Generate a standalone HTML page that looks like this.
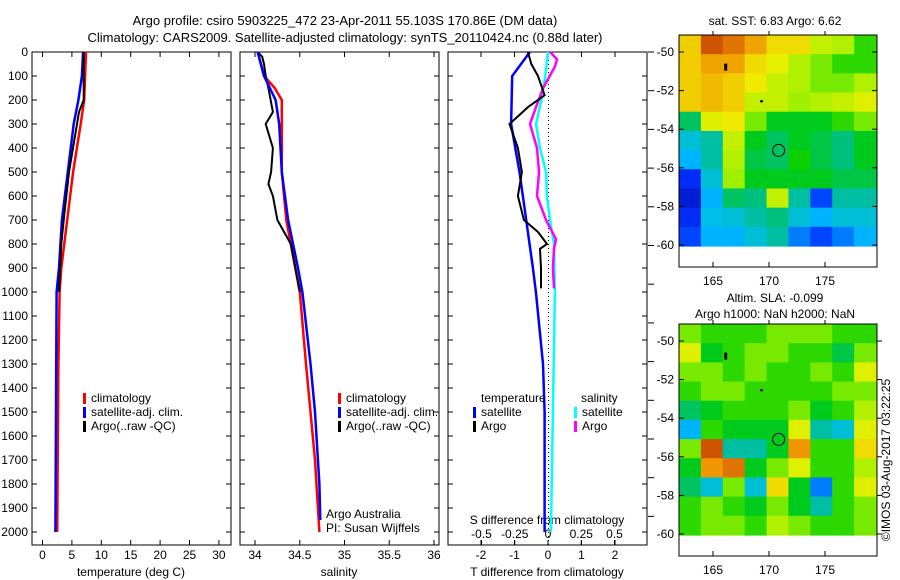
<!DOCTYPE html>
<html><head><meta charset="utf-8"><style>
body{margin:0;background:#fff;width:900px;height:580px;overflow:hidden;position:relative;font-family:"Liberation Sans",sans-serif}
svg{position:absolute;left:0;top:0}
</style></head><body>
<svg id="s" width="900" height="580"></svg>
<script>
// ---- data ----
const depthTicks=[0,100,200,300,400,500,600,700,800,900,1000,1100,1200,1300,1400,1500,1600,1700,1800,1900,2000];
const tTicks=[0,5,10,15,20,25,30];
const sTicks=[34,34.5,35,35.5,36];
const sLabels=["34","34.5","35","35.5","36"];
const dTTicks=[-2,-1,0,1,2];
const dSTicks=[-0.5,-0.25,0,0.25,0.5];
const dSLabels=["-0.5","-0.25","0","0.25","0.5"];
const climTDepth=[0,200,300,500,700,900,1000,1300,2000];
const climT=[7.4,7.1,6.5,5.2,4.2,3.2,2.9,2.7,2.5];
const satTDepth=[0,100,200,300,500,700,900,1000,2000];
const satT=[6.9,6.7,6.1,5.3,4.3,3.3,2.8,2.4,2.2];
const argoTDepth=[0,200,250,500,700,800,1000];
const argoT=[7.0,7.0,6.2,4.5,3.6,3.2,2.8];
const climSDepth=[0,100,150,200,300,500,700,1000,1300,1500,1700,2000];
const climS=[34.03,34.1,34.22,34.3,34.3,34.3,34.35,34.5,34.57,34.62,34.67,34.72];
const satSDepth=[0,100,200,300,500,700,900,1000,1300,1500,1800,1950];
const satS=[34.03,34.1,34.23,34.27,34.3,34.37,34.48,34.53,34.62,34.67,34.72,34.73];
const argoSDepth=[0,20,50,100,150,250,300,400,500,550,600,700,800,900,1000];
const argoS=[34.03,34.08,34.1,34.12,34.15,34.2,34.12,34.2,34.18,34.15,34.2,34.25,34.4,34.45,34.5];
const dSatTDepth=[0,100,300,500,700,900,1000,1300,1500,2000];
const dSatT=[-0.54,-1.07,-1.1,-0.85,-0.65,-0.45,-0.36,-0.15,-0.1,-0.1];
const dArgoTDepth=[0,50,100,180,230,300,400,500,600,700,750,800,820,900,985];
const dArgoT=[-0.6,-0.5,-0.3,-0.1,-0.6,-1.15,-0.9,-0.78,-0.9,-0.72,-0.3,-0.03,-0.24,-0.21,-0.21];
const dSatSDepth=[0,100,200,300,400,500,600,700,800,1000,1500,2000];
const dSatS=[0,-0.02,-0.05,-0.09,-0.06,-0.015,-0.008,0.015,0.045,0.052,0.037,0.022];
const dArgoSDepth=[0,30,60,150,230,300,400,500,600,700,780,820,900,985];
const dArgoS=[0.015,0.068,0.053,-0.037,-0.09,-0.135,-0.083,-0.068,-0.083,-0.015,0.06,0.045,0.037,0.045];
const lonTicks=[165,170,175];
const latTicks=[-50,-52,-54,-56,-58,-60];
const sstGrid=[
[0.72,0.9,0.85,0.78,0.7,0.7,0.62,0.6,0.5],
[0.72,0.78,0.78,0.7,0.66,0.6,0.55,0.5,0.5],
[0.72,0.75,0.72,0.68,0.62,0.6,0.55,0.55,0.6],
[0.72,0.75,0.72,0.62,0.62,0.58,0.6,0.62,0.65],
[0.4,0.65,0.68,0.55,0.45,0.45,0.45,0.5,0.55],
[0.3,0.35,0.62,0.45,0.4,0.45,0.42,0.38,0.45],
[0.25,0.35,0.6,0.42,0.4,0.48,0.42,0.38,0.45],
[0.12,0.3,0.58,0.45,0.45,0.45,0.45,0.42,0.42],
[0.08,0.25,0.4,0.38,0.62,0.35,0.15,0.35,0.35],
[0.12,0.28,0.3,0.35,0.38,0.3,0.25,0.3,0.3],
[0.15,0.25,0.25,0.3,0.35,0.2,0.15,0.2,0.25]];
const slaGrid=[
[0.55,0.5,0.5,0.5,0.55,0.55,0.55,0.5,0.5],
[0.65,0.45,0.5,0.55,0.55,0.5,0.5,0.42,0.55],
[0.55,0.55,0.5,0.55,0.5,0.5,0.55,0.5,0.65],
[0.5,0.55,0.55,0.5,0.5,0.5,0.5,0.55,0.55],
[0.4,0.45,0.5,0.5,0.5,0.55,0.45,0.5,0.6],
[0.25,0.5,0.45,0.45,0.45,0.65,0.35,0.3,0.65],
[0.55,0.9,0.35,0.35,0.45,0.8,0.5,0.5,0.7],
[0.45,0.8,0.85,0.45,0.55,0.65,0.5,0.5,0.6],
[0.4,0.3,0.55,0.3,0.7,0.45,0.2,0.5,0.65],
[0.5,0.55,0.5,0.45,0.55,0.45,0.35,0.5,0.55],
[0.5,0.55,0.55,0.5,0.6,0.55,0.5,0.5,0.55]];

// ---- helpers ----
const NS="http://www.w3.org/2000/svg", svg=document.getElementById('s');
function el(t,a,txt){const e=document.createElementNS(NS,t);for(const k in a)e.setAttribute(k,a[k]);if(txt!==undefined)e.textContent=txt;svg.appendChild(e);return e;}
const yD=d=>52+d*0.24;
const xT=v=>42.5+v*5.88, xS=v=>255+(v-34)*89.5, xDT=v=>548+v*33.5, xDS=v=>548+v*133;
function line(xs,ds,fx,col,name,w){
  const p=xs.map((v,i)=>fx(v).toFixed(1)+','+yD(ds[i]).toFixed(1)).join(' ');
  const e=el('polyline',{points:p,fill:'none',stroke:col,'stroke-width':w||2.5});
  
  
}
function txt(x,y,s,anchor,name,extra){const a={x:x,y:y,'font-size':12,'text-anchor':anchor||'start',fill:'#000'};if(extra)Object.assign(a,extra);const e=el('text',a,s);return e;}

// maps (drawn first)
const cmStops=[0,0.13,0.26,0.37,0.47,0.57,0.67,0.8,0.92,1];
const cmCols=[[0,0,140],[0,48,255],[0,190,255],[0,190,140],[0,205,0],[150,240,0],[240,240,0],[240,150,0],[200,70,0],[160,0,0]];
function cmap(v){v=Math.max(0,Math.min(1,v));let i=0;while(i<cmStops.length-2&&v>cmStops[i+1])i++;const t=(v-cmStops[i])/(cmStops[i+1]-cmStops[i]);const c=cmCols[i].map((c,k)=>Math.round(c+(cmCols[i+1][k]-c)*t));return 'rgb('+c.join(',')+')';}
function paint(grid,y0,name){
  const cw=197/9, ch=211/11;
  grid.forEach((row,j)=>row.forEach((v,i)=>{
    const r=el('rect',{x:(679+i*cw).toFixed(2),y:(y0+j*ch).toFixed(2),width:(cw+0.6).toFixed(2),height:(ch+0.6).toFixed(2),fill:cmap(v)});
    
    
  }));
}
paint(sstGrid,35,'sst-cell');paint(slaGrid,324,'sla-cell');

// titles
txt(345,25,"Argo profile: csiro 5903225_472 23-Apr-2011 55.103S 170.86E (DM data)","middle","title-line-1",{'font-size':13});
txt(345,42,"Climatology: CARS2009. Satellite-adjusted climatology: synTS_20110424.nc (0.88d later)","middle","title-line-2",{'font-size':13});

// panel frames
const panels=[[32,'temperature-panel'],[240,'salinity-panel'],[448,'difference-panel']];
panels.forEach(([x,n])=>{const r=el('rect',{x:x,y:52,width:199,height:493,fill:'none',stroke:'#000','stroke-width':1});});
depthTicks.forEach(d=>{const y=yD(d);
  panels.forEach(([x])=>{el('line',{x1:x,y1:y,x2:x+5,y2:y,stroke:'#000'});el('line',{x1:x+199,y1:y,x2:x+194,y2:y,stroke:'#000'});});
  txt(28,y+4,String(d),"end","depth-tick-label");
});
for(let y=52;y<=546;y+=38.7)el('line',{x1:648,y1:y,x2:654,y2:y,stroke:'#000'});
function xticks(vals,labs,fx,y,name,top){vals.forEach((v,i)=>{const x=fx(v);el('line',{x1:x,y1:545,x2:x,y2:540,stroke:'#000'});if(top)el('line',{x1:x,y1:52,x2:x,y2:57,stroke:'#000'});txt(x,y,labs[i],"middle",name);});}
xticks(tTicks,tTicks.map(String),xT,559,"temperature-tick-label",true);
xticks(sTicks,sLabels,xS,559,"salinity-tick-label",true);
xticks(dTTicks,dTTicks.map(String),xDT,559,"t-diff-tick-label",true);
dSTicks.forEach((v,i)=>{const x=xDS(v);el('line',{x1:x,y1:545,x2:x,y2:540,stroke:'#000'});txt(x,538,dSLabels[i],"middle","s-diff-tick-label");});
txt(131,576,"temperature (deg C)","middle","temperature-axis-title");
txt(339,576,"salinity","middle","salinity-axis-title");
txt(547,576,"T difference from climatology","middle","t-diff-axis-title");
txt(547,524,"S difference from climatology","middle","s-diff-axis-title");
el('line',{x1:548.5,y1:52,x2:548.5,y2:545,stroke:'#000','stroke-dasharray':'1,3'});

// series
line(climT,climTDepth,xT,'#f00','temp-climatology-line');
line(satT,satTDepth,xT,'#00f','temp-satellite-line');
line(argoT,argoTDepth,xT,'#000','temp-argo-line',2);
line(climS,climSDepth,xS,'#f00','sal-climatology-line');
line(argoS,argoSDepth,xS,'#000','sal-argo-line',2);
line(satS,satSDepth,xS,'#00f','sal-satellite-line');
line(dSatS,dSatSDepth,xDS,'#0ff','s-diff-satellite-line');
line(dArgoS,dArgoSDepth,xDS,'#f0f','s-diff-argo-line');
line(dSatT,dSatTDepth,xDT,'#00f','t-diff-satellite-line');
line(dArgoT,dArgoTDepth,xDT,'#000','t-diff-argo-line',2);

// legends
function leg(x,y,col,s,n){el('rect',{x:x,y:y-9,width:3,height:11,fill:col});txt(x+8,y,s,"start",n);}
[[83],[338]].forEach(([x])=>{leg(x,402,'#f00','climatology','legend-climatology');leg(x,416,'#00f','satellite-adj. clim.','legend-satellite');leg(x,430,'#000','Argo(..raw -QC)','legend-argo');});
txt(481,402,"temperature","start","legend-temperature-header");
leg(473,416,'#00f','satellite','legend-t-satellite');leg(473,430,'#000','Argo','legend-t-argo');
txt(581,402,"salinity","start","legend-salinity-header");
leg(574,416,'#0ff','satellite','legend-s-satellite');leg(574,430,'#f0f','Argo','legend-s-argo');
txt(326,518,"Argo Australia","start","credit-argo-australia");
txt(326,532,"PI: Susan Wijffels","start","credit-pi");

const xL=l=>713+(l-165)*11.2;
function map(y0,name,rightTicks){
  const r=el('rect',{x:679,y:y0,width:198,height:232,fill:'none',stroke:'#000'});
  const yl=l=>y0+17+(-50-l)*19.3;
  latTicks.forEach(l=>{const y=yl(l);el('line',{x1:679,y1:y,x2:684,y2:y,stroke:'#000'});if(rightTicks)el('line',{x1:877,y1:y,x2:882,y2:y,stroke:'#000'});else el('line',{x1:877,y1:y,x2:872,y2:y,stroke:'#000'});txt(674,y+4,String(l),"end","map-lat-label");});
  lonTicks.forEach(l=>{const x=xL(l);el('line',{x1:x,y1:y0+232,x2:x,y2:y0+227,stroke:'#000'});el('line',{x1:x,y1:y0,x2:x,y2:y0-4,stroke:'#000'});txt(x,y0+250,String(l),"middle","map-lon-label");});
  const c=el('circle',{cx:xL(170.86),cy:yl(-55.1),r:6,fill:'none',stroke:'#000'});
  el('rect',{x:xL(166),y:yl(-50.6),width:3,height:7,fill:'#000'});
  el('rect',{x:xL(169.2),y:yl(-52.5),width:3,height:2,fill:'#000'});
}
map(35,'sst-map-frame',false);map(324,'sla-map-frame',true);
txt(775,25,"sat. SST: 6.83 Argo: 6.62","middle","sst-map-title");
txt(775,302,"Altim. SLA: -0.099","middle","sla-map-title");
txt(775,318,"Argo h1000: NaN h2000: NaN","middle","sla-map-subtitle");
txt(0,0,"©IMOS 03-Aug-2017 03:22:25","middle","imos-stamp",{transform:"translate(890,460) rotate(-90)"});
</script>
</body></html>
